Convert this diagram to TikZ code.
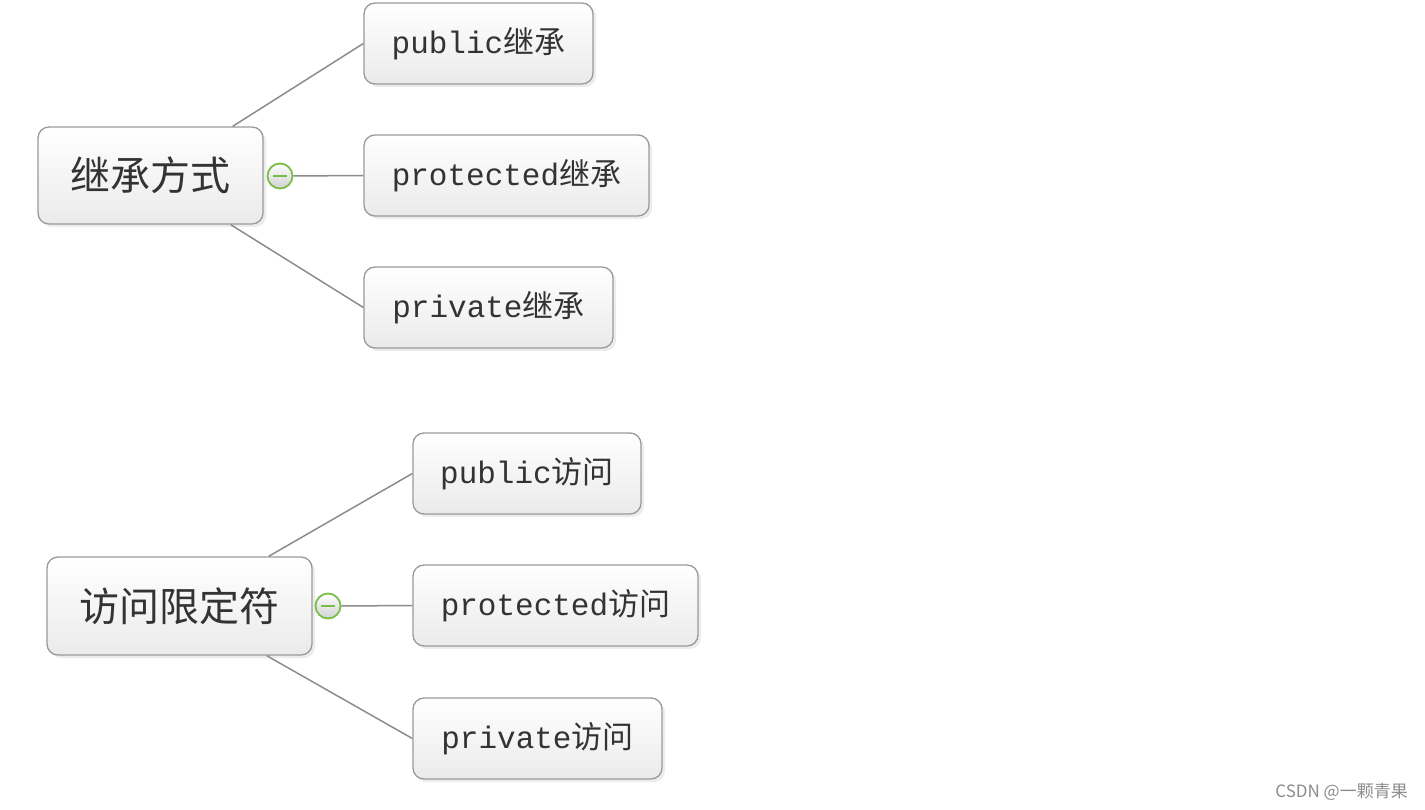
\documentclass[tikz,border=0pt]{standalone}
\usepackage{fontspec}
\setmainfont{Liberation Mono}
\newfontfamily\cjk{Noto Sans CJK SC}
\usetikzlibrary{shadows,calc}
\definecolor{txt}{HTML}{333333}
\definecolor{edge}{HTML}{9A9A9A}
\definecolor{lnk}{HTML}{8C8C8C}
\definecolor{grn}{HTML}{78BE48}
\tikzset{
  box/.style={draw=edge, line width=1.3pt, rounded corners=11pt, top color=white, bottom color=black!8,
    drop shadow={shadow xshift=3pt, shadow yshift=-3pt, fill=black!12, opacity=0.6},
    inner sep=0pt, text=txt, anchor=center},
  rootbox/.style={box, font=\cjk\fontsize{40}{44}\selectfont},
  leafbox/.style={box, font=\fontsize{31}{36}\selectfont},
  conn/.style={draw=lnk, line width=1.5pt},
  knob/.style={circle, draw=grn, line width=1.8pt, top color=white, bottom color=black!18, minimum size=25pt, inner sep=0pt},
}
\begin{document}
\begin{tikzpicture}[x=1pt,y=-1pt]
\useasboundingbox (0,0) rectangle (1425,810);
% group 1
\node[rootbox, minimum width=225pt, minimum height=97pt] (r1) at (150.5,175.5) {继承方式};
\node[leafbox, minimum width=229pt, minimum height=81pt] (a1) at (478.5,43.5) {public{\cjk 继承}};
\node[leafbox, minimum width=285pt, minimum height=81pt] (a2) at (506.5,175.5) {protected{\cjk 继承}};
\node[leafbox, minimum width=249pt, minimum height=81pt] (a3) at (488.5,307.5) {private{\cjk 继承}};
\node[knob] (k1) at (280,176) {};
\draw[grn, line width=1.8pt] ($(k1.center)+(-7,0)$) -- ($(k1.center)+(7,0)$);
\draw[conn] ($(r1.north east)+(-31,0)$) -- (a1.west);
\draw[conn] (k1.east) -- (a2.west);
\draw[conn] ($(r1.south east)+(-33,0)$) -- (a3.west);
% group 2
\node[rootbox, minimum width=265pt, minimum height=98pt] (r2) at (179.5,606) {访问限定符};
\node[leafbox, minimum width=228pt, minimum height=81pt] (b1) at (527,473.5) {public{\cjk 访问}};
\node[leafbox, minimum width=285pt, minimum height=81pt] (b2) at (555.5,605.5) {protected{\cjk 访问}};
\node[leafbox, minimum width=249pt, minimum height=81pt] (b3) at (537.5,738.5) {private{\cjk 访问}};
\node[knob] (k2) at (328,606) {};
\draw[grn, line width=1.8pt] ($(k2.center)+(-7,0)$) -- ($(k2.center)+(7,0)$);
\draw[conn] ($(r2.north east)+(-44,0)$) -- (b1.west);
\draw[conn] (k2.east) -- (b2.west);
\draw[conn] ($(r2.south east)+(-46,0)$) -- (b3.west);
% watermark
\node[font=\cjk\fontsize{17}{19}\selectfont, text=black!45, anchor=east, inner sep=0pt] (wm) at (1408,792) {CSDN @一颗青果};
\end{tikzpicture}
\end{document}
